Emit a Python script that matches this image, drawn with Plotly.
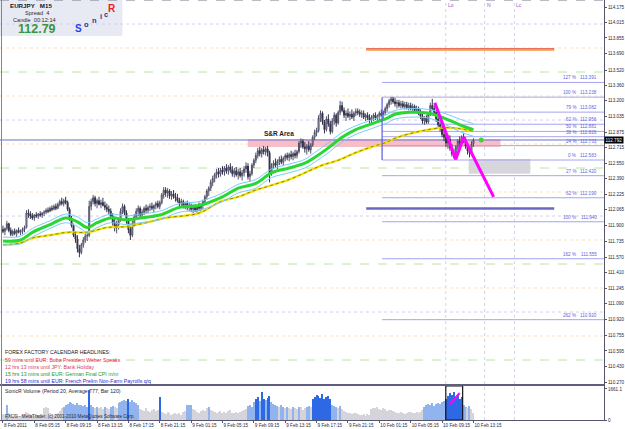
import plotly.graph_objects as go

# ---------------- data ----------------
opens = [111.86,111.84,111.87,111.92,111.85,111.81,111.84,111.82,111.85,111.83,
 111.84,111.86,111.88,112.03,112.02,112.00,111.98,112.01,112.00,112.02,
 112.01,112.03,112.04,112.06,112.05,112.08,112.07,112.10,112.08,112.12,
 112.15,112.13,112.16,112.14,112.07,111.97,111.90,111.80,111.76,111.66,
 111.62,111.70,111.75,111.79,111.80,112.10,112.15,112.19,112.13,112.16,
 112.12,112.14,112.11,112.09,112.07,112.05,112.00,111.93,111.88,111.91,
 111.96,112.05,112.10,112.03,111.95,111.86,111.80,111.92,111.99,112.05,
 112.08,112.01,112.04,112.08,112.06,112.09,112.10,112.08,112.11,112.13,
 112.10,112.14,112.22,112.27,112.24,112.26,112.21,112.23,112.20,112.19,
 112.16,112.13,112.15,112.11,112.13,112.09,112.11,112.07,112.09,112.06,
 112.10,112.08,112.11,112.15,112.20,112.26,112.29,112.35,112.39,112.43,
 112.46,112.44,112.48,112.46,112.50,112.47,112.51,112.48,112.44,112.47,
 112.43,112.46,112.42,112.45,112.49,112.52,112.41,112.44,112.53,112.58,
 112.63,112.68,112.65,112.69,112.67,112.70,112.66,112.45,112.52,112.55,
 112.53,112.57,112.59,112.56,112.60,112.63,112.61,112.64,112.62,112.65,
 112.63,112.67,112.76,112.78,112.72,112.70,112.73,112.69,112.74,112.82,
 112.87,112.89,113.02,113.07,112.98,112.90,113.01,112.96,112.88,112.99,
 113.05,112.97,113.08,113.15,113.10,113.05,113.07,113.04,113.06,113.03,
 113.07,113.09,113.08,113.06,113.07,113.03,113.05,113.02,113.00,113.03,
 113.05,113.02,113.04,113.07,113.05,113.08,113.12,113.16,113.20,113.22,
 113.19,113.17,113.18,113.15,113.17,113.14,113.16,113.13,113.15,113.12,
 113.14,113.10,113.12,113.08,113.04,112.99,113.02,112.98,113.06,113.15,
 113.12,113.08,113.01,112.95,112.92,112.85,112.82,112.76,112.80,112.71,
 112.65,112.63,112.72,112.78,112.76,112.82,112.79,112.73,112.68,112.66,112.75]
highs = [111.90,111.88,111.95,111.93,111.88,111.86,111.87,111.86,111.88,111.86,
 111.88,111.90,112.06,112.07,112.05,112.03,112.02,112.04,112.03,112.05,
 112.04,112.06,112.08,112.09,112.10,112.11,112.12,112.13,112.14,112.17,
 112.19,112.18,112.20,112.16,112.09,112.00,111.92,111.84,111.80,111.70,
 111.72,111.78,111.82,111.84,112.16,112.18,112.22,112.21,112.18,112.20,
 112.17,112.19,112.15,112.13,112.11,112.08,112.03,111.97,111.95,111.98,
 112.08,112.13,112.12,112.06,111.98,111.92,111.95,112.02,112.08,112.11,
 112.10,112.07,112.10,112.12,112.11,112.13,112.14,112.12,112.15,112.16,
 112.16,112.24,112.30,112.30,112.29,112.28,112.26,112.27,112.24,112.23,
 112.19,112.18,112.17,112.15,112.16,112.14,112.13,112.12,112.12,112.11,
 112.14,112.13,112.17,112.22,112.28,112.31,112.38,112.42,112.45,112.49,
 112.50,112.50,112.52,112.52,112.54,112.53,112.55,112.52,112.50,112.51,
 112.49,112.50,112.48,112.52,112.56,112.55,112.47,112.55,112.60,112.66,
 112.71,112.72,112.71,112.73,112.72,112.73,112.68,112.55,112.58,112.60,
 112.59,112.62,112.63,112.62,112.65,112.66,112.66,112.68,112.67,112.69,
 112.69,112.78,112.81,112.80,112.77,112.75,112.78,112.76,112.84,112.90,
 112.92,113.05,113.10,113.09,113.00,113.04,113.06,112.99,113.02,113.08,
 113.07,113.10,113.20,113.19,113.13,113.10,113.12,113.09,113.11,113.09,
 113.12,113.12,113.11,113.10,113.10,113.07,113.08,113.06,113.05,113.07,
 113.08,113.06,113.09,113.11,113.10,113.14,113.18,113.22,113.24,113.24,
 113.23,113.21,113.21,113.20,113.20,113.19,113.19,113.18,113.18,113.17,
 113.16,113.15,113.14,113.11,113.07,113.04,113.05,113.08,113.18,113.22,
 113.16,113.10,113.04,113.00,112.96,112.90,112.88,112.85,112.84,112.75,
 112.70,112.74,112.80,112.83,112.84,112.86,112.82,112.76,112.72,112.78,112.81]
lows = [111.82,111.80,111.85,111.83,111.79,111.79,111.80,111.78,111.82,111.80,
 111.81,111.83,111.87,111.98,111.97,111.96,111.95,111.98,111.97,111.99,
 111.98,112.00,112.02,112.03,112.04,112.05,112.06,112.06,112.07,112.10,
 112.11,112.10,112.12,112.05,111.95,111.88,111.78,111.72,111.62,111.57,
 111.60,111.67,111.72,111.74,111.78,112.06,112.12,112.10,112.08,112.11,
 112.08,112.10,112.06,112.04,112.02,111.98,111.90,111.84,111.82,111.86,
 111.94,112.02,112.01,111.92,111.82,111.75,111.78,111.89,111.96,112.00,
 111.98,111.97,112.01,112.03,112.03,112.05,112.06,112.04,112.07,112.08,
 112.07,112.12,112.18,112.20,112.19,112.18,112.17,112.18,112.15,112.14,
 112.10,112.09,112.08,112.07,112.06,112.05,112.04,112.03,112.04,112.03,
 112.05,112.04,112.07,112.12,112.17,112.21,112.26,112.31,112.35,112.39,
 112.40,112.41,112.43,112.42,112.44,112.43,112.45,112.41,112.40,112.41,
 112.38,112.40,112.37,112.41,112.45,112.38,112.36,112.42,112.50,112.55,
 112.60,112.62,112.61,112.64,112.63,112.62,112.35,112.42,112.49,112.50,
 112.49,112.53,112.54,112.53,112.57,112.58,112.57,112.59,112.58,112.60,
 112.60,112.65,112.71,112.70,112.66,112.64,112.67,112.65,112.72,112.79,
 112.83,112.87,112.98,112.95,112.86,112.88,112.93,112.85,112.86,112.95,
 112.93,112.95,113.05,113.08,113.02,112.99,113.02,113.00,113.01,112.99,
 113.04,113.05,113.03,113.02,113.01,112.99,113.00,112.97,112.96,112.99,
 113.00,112.98,113.00,113.03,113.01,113.05,113.09,113.13,113.16,113.17,
 113.14,113.12,113.13,113.12,113.12,113.11,113.11,113.10,113.10,113.08,
 113.08,113.07,113.05,113.01,112.96,112.95,112.96,112.96,113.04,113.10,
 113.05,112.98,112.92,112.88,112.82,112.78,112.72,112.70,112.68,112.62,
 112.60,112.61,112.69,112.73,112.74,112.76,112.70,112.64,112.61,112.64,112.72]
closes = [111.84,111.87,111.92,111.85,111.81,111.84,111.82,111.85,111.83,111.84,
 111.86,111.88,112.03,112.02,112.00,111.98,112.01,112.00,112.02,112.01,
 112.03,112.04,112.06,112.05,112.08,112.07,112.10,112.08,112.12,112.15,
 112.13,112.16,112.14,112.07,111.97,111.90,111.80,111.76,111.66,111.62,
 111.70,111.75,111.79,111.80,112.10,112.15,112.19,112.13,112.16,112.12,
 112.14,112.11,112.09,112.07,112.05,112.00,111.93,111.88,111.91,111.96,
 112.05,112.10,112.03,111.95,111.86,111.80,111.92,111.99,112.05,112.08,
 112.01,112.04,112.08,112.06,112.09,112.10,112.08,112.11,112.13,112.10,
 112.14,112.22,112.27,112.24,112.26,112.21,112.23,112.20,112.19,112.16,
 112.13,112.15,112.11,112.13,112.09,112.11,112.07,112.09,112.06,112.10,
 112.08,112.11,112.15,112.20,112.26,112.29,112.35,112.39,112.43,112.46,
 112.44,112.48,112.46,112.50,112.47,112.51,112.48,112.44,112.47,112.43,
 112.46,112.42,112.45,112.49,112.52,112.41,112.44,112.53,112.58,112.63,
 112.68,112.65,112.69,112.67,112.70,112.66,112.45,112.52,112.55,112.53,
 112.57,112.59,112.56,112.60,112.63,112.61,112.64,112.62,112.65,112.63,
 112.67,112.76,112.78,112.72,112.70,112.73,112.69,112.74,112.82,112.87,
 112.89,113.02,113.07,112.98,112.90,113.01,112.96,112.88,112.99,113.05,
 112.97,113.08,113.15,113.10,113.05,113.07,113.04,113.06,113.03,113.07,
 113.09,113.08,113.06,113.07,113.03,113.05,113.02,113.00,113.03,113.05,
 113.02,113.04,113.07,113.05,113.08,113.12,113.16,113.20,113.22,113.19,
 113.17,113.18,113.15,113.17,113.14,113.16,113.13,113.15,113.12,113.14,
 113.10,113.12,113.08,113.04,112.99,113.02,112.98,113.06,113.15,113.12,
 113.08,113.01,112.95,112.92,112.85,112.82,112.76,112.80,112.71,112.65,
 112.63,112.72,112.78,112.76,112.82,112.79,112.73,112.68,112.66,112.75,112.79]
volumes = [300,250,800,350,280,220,300,260,200,240,
 280,320,450,380,300,260,220,300,280,250,
 330,620,680,650,400,300,280,320,350,500,
 620,700,820,880,950,920,850,780,900,820,
 800,760,820,700,1600,800,720,650,700,620,
 680,600,720,650,580,700,750,680,620,900,
 950,1020,1080,1000,1100,950,1050,980,900,820,
 600,550,480,620,500,450,520,600,480,550,
 1230,450,380,300,420,350,280,320,400,300,
 350,280,420,500,800,820,780,600,520,450,
 400,480,550,500,620,700,520,480,420,380,
 450,500,380,420,350,480,520,400,350,450,
 380,420,500,550,600,750,800,700,950,1100,
 1250,1000,1500,1150,1050,1200,1300,950,880,800,
 750,680,800,720,650,700,620,580,700,650,
 600,720,680,550,620,700,750,680,1100,1250,
 1350,1300,1200,1400,1150,1250,1300,1100,800,750,
 700,650,750,600,500,420,380,350,300,400,
 350,300,250,280,320,220,300,280,600,650,
 620,680,600,550,640,580,500,520,560,480,
 450,400,380,420,350,300,380,420,450,400,
 350,420,380,450,550,700,780,850,820,900,
 750,880,920,850,950,1000,1100,1300,1450,1350,
 1500,1200,1400,1100,1250,800,700,650,750,600,350]

time_labels = ["8 Feb 2011","8 Feb 05:15","8 Feb 09:15","8 Feb 13:15","8 Feb 17:15",
 "8 Feb 21:15","9 Feb 01:15","9 Feb 05:15","9 Feb 09:15","9 Feb 13:15","9 Feb 17:15",
 "9 Feb 21:15","10 Feb 01:15","10 Feb 05:15","10 Feb 09:15","10 Feb 13:15"]
label_bars = [0,16,32,48,64,80,96,112,128,144,160,176,192,208,224,240]

price_ticks = [114.175,114.015,113.855,113.690,113.520,113.360,113.200,113.035,112.875,
 112.715,112.550,112.390,112.225,112.065,111.900,111.735,111.570,111.410,111.245,
 111.090,110.920,110.755,110.595,110.430,110.270]

ma_bars = [0,9,15,24,32,38,43,48,55,63,70,80,90,100,112,120,129,137,146,154,159,166,173,180,188,196,200,208,217,225,233,240]
ma_green = [111.74,111.75,111.83,111.91,111.98,111.94,111.88,111.93,111.98,111.96,111.98,112.01,112.09,112.11,112.20,112.29,112.34,112.45,112.50,112.55,112.61,112.71,112.82,112.90,112.96,113.02,113.06,113.08,113.07,113.02,112.95,112.90]
band_up = [111.78,111.79,111.87,111.95,112.02,111.99,111.93,111.97,112.02,112.00,112.02,112.05,112.13,112.15,112.24,112.33,112.38,112.49,112.54,112.59,112.66,112.76,112.87,112.94,113.00,113.06,113.10,113.12,113.11,113.07,113.01,112.96]
band_dn = [111.70,111.71,111.78,111.87,111.93,111.89,111.83,111.88,111.93,111.91,111.93,111.96,112.04,112.06,112.15,112.24,112.29,112.40,112.45,112.50,112.56,112.66,112.77,112.85,112.91,112.97,113.01,113.03,113.02,112.96,112.88,112.83]
yel_bars = [0,9,15,24,33,43,53,63,73,83,100,111,120,129,137,146,154,163,171,180,188,196,200,208,217,225,233,240]
ma_yellow = [111.70,111.72,111.77,111.80,111.83,111.83,111.88,111.89,111.93,111.98,112.03,112.15,112.20,112.27,112.32,112.38,112.45,112.53,112.58,112.66,112.72,112.77,112.81,112.86,112.90,112.92,112.91,112.88]

level_prices = [114.00,113.75,113.50,113.25,113.00,112.75,112.50,112.25,112.00,111.75,111.50,111.25,111.00,110.75,110.50]

fib_start_bar = 193.4
fib_pct = ["127 %","100 %","79 %","62 %","50 %","38 %","24 %","0 %","27 %","62 %","100 %","162 %","262 %"]
fib_price = [113.391,113.238,113.082,112.956,112.881,112.826,112.733,112.583,112.420,112.190,111.940,111.555,110.920]

event_bars = [225.9, 245.7, 260.9]
event_names = ["Lo", "N", "Lc"]

bid = 112.792
zig_bars = [220.3, 231.0, 235.0, 250.3]
zig_prices = [113.18, 112.59, 112.82, 112.20]
sr_zone = dict(x0=124.9, x1=253.8, lo=112.72, hi=112.80)
grey_zone = dict(x0=237.6, x1=269.0, lo=112.44, hi=112.594)
seg_bars = [185.3, 281.2]
orange_level = 113.732
blue_level = 112.078
vol_box_bars = [225.9, 234.5]
vol_arrow_bars = [228, 233]
vol_arrow_vals = [858, 1447]

headlines = ["59 mins until EUR: Buba President Weber Speaks",
 "12 hrs 13 mins until JPY: Bank Holiday",
 "15 hrs 13 mins until EUR: German Final CPI m/m",
 "19 hrs 58 mins until EUR: French Prelim Non-Farm Payrolls q/q"]
headline_colors = ["rgb(235,30,60)", "rgb(215,60,95)", "rgb(40,150,40)", "rgb(40,40,215)"]

# ---------------- figure ----------------
W, H = 607.0, 420.0
FONT = "Liberation Sans"
def px(x):
    return x / W
def py(y):
    return 1 - y / H

X0, X1 = -1.5, 306.6
P_LO, P_HI = 110.2396, 114.25
VOL_TOP = 1875

idx = list(range(len(closes)))
fig = go.Figure()

fig.add_trace(go.Candlestick(
    x=idx, open=opens, high=highs, low=lows, close=closes,
    increasing=dict(line=dict(color="rgb(80,80,105)", width=1), fillcolor="rgb(205,205,215)"),
    decreasing=dict(line=dict(color="rgb(50,50,75)", width=1), fillcolor="rgb(50,50,75)"),
    whiskerwidth=0, hoverinfo="skip", xaxis="x", yaxis="y"))

fig.add_trace(go.Scatter(x=yel_bars, y=ma_yellow, mode="lines", line=dict(color="rgb(240,225,0)", width=2.2, shape="spline"), hoverinfo="skip"))
fig.add_trace(go.Scatter(x=yel_bars, y=ma_yellow, mode="lines", line=dict(color="rgb(150,130,0)", width=1, dash="dot", shape="spline"), hoverinfo="skip"))
fig.add_trace(go.Scatter(x=ma_bars, y=band_up, mode="lines", line=dict(color="rgb(120,205,245)", width=1, shape="spline"), hoverinfo="skip"))
fig.add_trace(go.Scatter(x=ma_bars, y=band_dn, mode="lines", line=dict(color="rgb(120,205,245)", width=1, shape="spline"), hoverinfo="skip"))
fig.add_trace(go.Scatter(x=ma_bars, y=ma_green, mode="lines", line=dict(color="rgb(40,215,50)", width=3, shape="spline"), hoverinfo="skip"))

fig.add_trace(go.Scatter(x=zig_bars, y=zig_prices, mode="lines", line=dict(color="rgb(255,0,255)", width=3), hoverinfo="skip"))
fig.add_trace(go.Scatter(x=[244], y=[bid], mode="markers", marker=dict(color="rgb(60,210,60)", size=5), hoverinfo="skip"))

vcols = []
for v in volumes:
    if v >= 1100:
        vcols.append("rgb(45,105,228)")
    elif v >= 700:
        vcols.append("rgb(145,180,238)")
    else:
        vcols.append("rgb(212,212,218)")
fig.add_trace(go.Bar(x=idx, y=volumes, marker=dict(color=vcols, line=dict(width=0)), width=0.6,
                     xaxis="x", yaxis="y2", hoverinfo="skip"))
fig.add_trace(go.Scatter(x=vol_arrow_bars, y=vol_arrow_vals, mode="lines", line=dict(color="rgb(255,0,255)", width=2),
                         xaxis="x", yaxis="y2", hoverinfo="skip"))

shapes = []
# round-number levels
for p in level_prices:
    frac = round((p % 1) * 100)
    if frac == 0:
        col, dash = "rgb(208,208,242)", "dot"
    elif frac == 50:
        col, dash = "rgb(185,228,160)", "dash"
    else:
        col, dash = "rgb(250,225,192)", "dot"
    shapes.append(dict(type="line", xref="x", yref="y", x0=X0, x1=X1, y0=p, y1=p,
                       line=dict(color=col, width=1, dash=dash), layer="below"))
# event verticals
for b in event_bars:
    shapes.append(dict(type="line", xref="x", yref="paper", x0=b, x1=b, y0=0, y1=1,
                       line=dict(color="rgb(210,210,235)", width=1, dash="dot"), layer="below"))
# zones
shapes.append(dict(type="rect", xref="x", yref="y", x0=sr_zone["x0"], x1=sr_zone["x1"], y0=sr_zone["lo"], y1=sr_zone["hi"],
                   fillcolor="rgb(247,190,200)", line=dict(width=0), layer="below"))
shapes.append(dict(type="rect", xref="x", yref="y", x0=grey_zone["x0"], x1=grey_zone["x1"], y0=grey_zone["lo"], y1=grey_zone["hi"],
                   fillcolor="rgb(214,214,220)", line=dict(width=0), layer="below"))
# bid line
shapes.append(dict(type="line", xref="x", yref="y", x0=X0, x1=X1, y0=bid, y1=bid,
                   line=dict(color="rgb(110,110,205)", width=1), layer="below"))
# fib levels
for p in fib_price:
    shapes.append(dict(type="line", xref="x", yref="y", x0=fib_start_bar, x1=X1, y0=p, y1=p,
                       line=dict(color="rgb(165,165,238)", width=1), layer="below"))
shapes.append(dict(type="line", xref="x", yref="y", x0=fib_start_bar, x1=fib_start_bar, y0=fib_price[7], y1=fib_price[1],
                   line=dict(color="rgb(90,90,225)", width=1.2)))
# drawn segments
shapes.append(dict(type="line", xref="x", yref="y", x0=seg_bars[0], x1=seg_bars[1], y0=orange_level + 0.008, y1=orange_level + 0.008,
                   line=dict(color="rgb(225,70,50)", width=1.2)))
shapes.append(dict(type="line", xref="x", yref="y", x0=seg_bars[0], x1=seg_bars[1], y0=orange_level - 0.004, y1=orange_level - 0.004,
                   line=dict(color="rgb(245,150,60)", width=1.5)))
shapes.append(dict(type="line", xref="x", yref="y", x0=seg_bars[0], x1=seg_bars[1], y0=blue_level, y1=blue_level,
                   line=dict(color="rgb(105,105,195)", width=2.5)))
# volume box
shapes.append(dict(type="rect", xref="x", yref="y2", x0=vol_box_bars[0], x1=vol_box_bars[1], y0=0, y1=1822,
                   line=dict(color="rgb(20,20,30)", width=1.2), fillcolor="rgba(0,0,0,0)"))
# info box
shapes.append(dict(type="rect", xref="paper", yref="paper", x0=0, x1=px(123), y0=py(36), y1=1,
                   fillcolor="rgb(232,234,243)", line=dict(width=0), layer="below"))
# panel separator / borders
shapes.append(dict(type="line", xref="paper", yref="paper", x0=0, x1=1, y0=py(385), y1=py(385),
                   line=dict(color="rgb(95,95,125)", width=2)))
shapes.append(dict(type="line", xref="paper", yref="paper", x0=0, x1=1, y0=1, y1=1,
                   line=dict(color="rgb(120,120,140)", width=1, dash="dash")))
shapes.append(dict(type="line", xref="paper", yref="paper", x0=px(1.5), x1=px(1.5), y0=0, y1=1,
                   line=dict(color="rgb(130,130,150)", width=1)))

ann = []
def txt(x, y, s, size=5, color="rgb(30,30,40)", xanchor="left", bold=False, xref="paper", yref="paper", yanchor="middle", **kw):
    ann.append(dict(x=x, y=y, xref=xref, yref=yref, text=("<b>%s</b>" % s) if bold else s, showarrow=False,
                    xanchor=xanchor, yanchor=yanchor, font=dict(family=FONT, size=size, color=color), **kw))

# info box
txt(px(31), py(6), "EURJPY   M15", size=6.2, xanchor="center", bold=True, color="rgb(20,20,30)")
txt(px(37), py(13), "Spread  4", size=5.6, xanchor="center", color="rgb(40,40,50)")
txt(px(35), py(20), "Candle  00:12:14", size=5.6, xanchor="center", color="rgb(40,40,50)")
txt(px(37), py(29), "112.79", size=12.5, xanchor="center", bold=True, color="rgb(55,150,60)")
txt(px(79), py(28.5), "S", size=10, xanchor="center", bold=True, color="rgb(35,65,235)")
txt(px(87), py(24), "o", size=7.5, xanchor="center", bold=True, color="rgb(40,50,150)")
txt(px(95), py(20.5), "n", size=7.5, xanchor="center", bold=True, color="rgb(40,50,150)")
txt(px(101.5), py(17), "i", size=7.5, xanchor="center", bold=True, color="rgb(40,50,150)")
txt(px(107), py(14.5), "c", size=7.5, xanchor="center", bold=True, color="rgb(40,50,150)")
txt(px(113), py(8), "R", size=10, xanchor="center", bold=True, color="rgb(235,30,30)")

# event labels
for b, n in zip(event_bars, event_names):
    txt(b, py(5), n, size=5, xref="x", color="rgb(150,90,210)")

# S&R label
txt(140.6, 112.86, "S&R Area", size=6.5, xref="x", yref="y", xanchor="center", bold=True, color="rgb(30,30,30)")

# fib labels
for t, p in zip(fib_pct, fib_price):
    txt(px(581), p, t, size=4.6, xanchor="right", yref="y", yanchor="bottom", color="rgb(100,100,220)")
    txt(px(602), p, "%.3f" % p, size=4.6, xanchor="right", yref="y", yanchor="bottom", color="rgb(100,100,220)")

# bid label on axis
txt(1.0, bid, "%.3f" % bid, size=4.6, xanchor="left", yref="y", color="white", bgcolor="black", borderpad=0.5)

# headlines
txt(px(3), py(352), "FOREX FACTORY CALENDAR HEADLINES:", size=5.2, color="rgb(20,20,20)")
for i, (h, c) in enumerate(zip(headlines, headline_colors)):
    txt(px(3), py(360 + 7 * i), h, size=5.2, color=c)
txt(px(3), py(391), "SonicR Volume (Period 20, Average 777, Bar 120)", size=5.2, color="rgb(40,40,50)")
txt(px(3), py(416), "FXCG - MetaTrader, (c) 2001-2010 MetaQuotes Software Corp.", size=4.6, color="rgb(40,40,50)")

axis_col = "rgb(85,85,110)"
tfont = dict(family=FONT, size=4.6, color="rgb(40,40,60)")
fig.update_layout(
    width=625, height=429, margin=dict(l=0, r=18, t=0, b=9),
    paper_bgcolor="white", plot_bgcolor="white", showlegend=False,
    shapes=shapes, annotations=ann, bargap=0,
    xaxis=dict(domain=[0, 1], range=[X0, X1], anchor="y2", showgrid=False, zeroline=False,
               tickvals=label_bars, ticktext=time_labels, ticks="outside", ticklen=2, tickcolor=axis_col,
               tickfont=tfont, tickangle=0, ticklabelposition="outside right", showline=True, linecolor=axis_col,
               linewidth=1, rangeslider=dict(visible=False), fixedrange=True),
    yaxis=dict(domain=[35 / H, 1], range=[P_LO, P_HI], side="right", anchor="x", showgrid=False,
               zeroline=False, tickvals=price_ticks, ticktext=["%.3f" % t for t in price_ticks],
               ticks="outside", ticklen=2, tickcolor=axis_col, tickfont=tfont, showline=True,
               linecolor=axis_col, linewidth=1),
    yaxis2=dict(domain=[0, 35 / H], range=[0, VOL_TOP], side="right", anchor="x", showgrid=False,
                zeroline=False, tickvals=[0, 1661.1], ticktext=["0", "1661.1"], ticks="outside", ticklen=2,
                tickcolor=axis_col, tickfont=tfont, showline=True, linecolor=axis_col, linewidth=1),
)

fig.write_html("out.html")
